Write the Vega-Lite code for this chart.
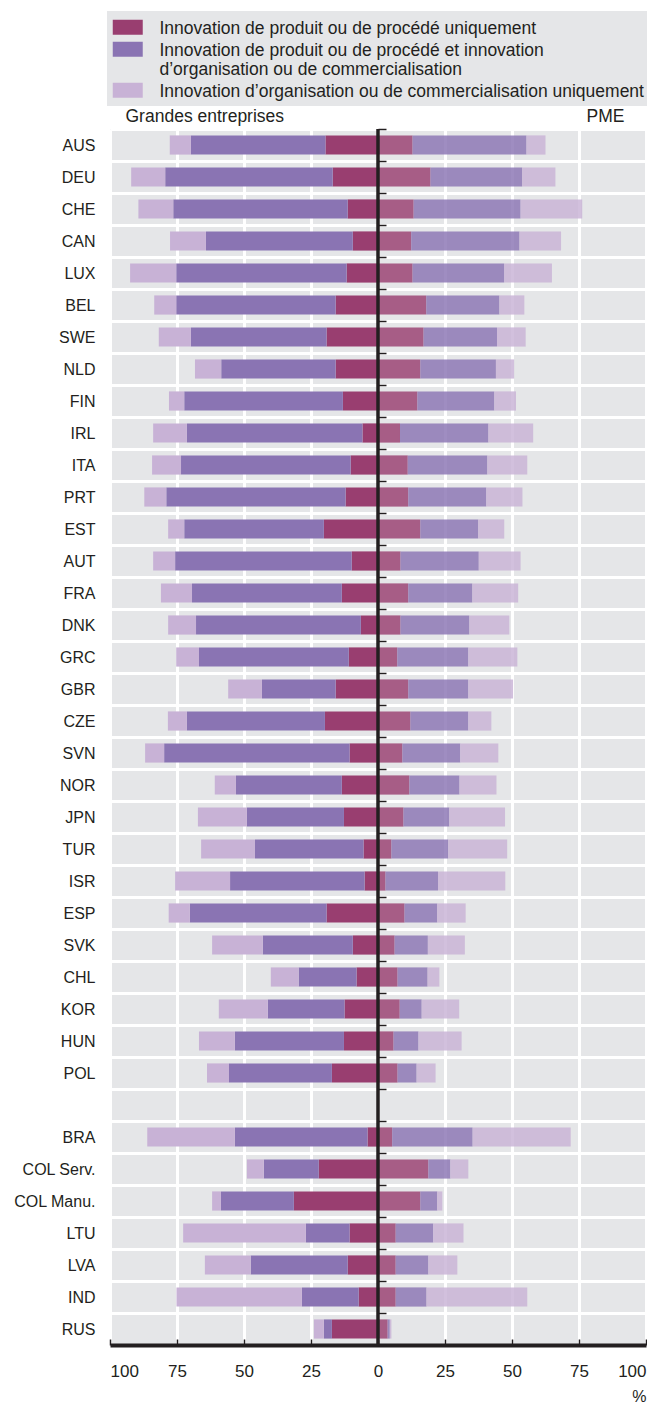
{
  "$schema": "https://vega.github.io/schema/vega-lite/v6.json",
  "width": 536,
  "height": 1216,
  "autosize": {"type": "none"},
  "padding": {"left": 110, "top": 129, "right": 1, "bottom": 58},
  "background": "white",
  "config": {
    "font": "Liberation Sans",
    "view": {"fill": "#e5e6e8", "stroke": null},
    "axis": {"labelColor": "#231f20", "titleColor": "#231f20", "labelFont": "Liberation Sans", "titleFont": "Liberation Sans"},
    "legend": {"labelFont": "Liberation Sans"}
  },
  "data": {"values": [
    {"c":"AUS","s":"L","t":"A","v":-19.6},{"c":"AUS","s":"L","t":"B","v":-50.2},{"c":"AUS","s":"L","t":"C","v":-7.9},{"c":"AUS","s":"R","t":"A","v":12.9},{"c":"AUS","s":"R","t":"B","v":42.5},{"c":"AUS","s":"R","t":"C","v":7.1},
    {"c":"DEU","s":"L","t":"A","v":-16.9},{"c":"DEU","s":"L","t":"B","v":-62.5},{"c":"DEU","s":"L","t":"C","v":-12.7},{"c":"DEU","s":"R","t":"A","v":19.6},{"c":"DEU","s":"R","t":"B","v":34.2},{"c":"DEU","s":"R","t":"C","v":12.4},
    {"c":"CHE","s":"L","t":"A","v":-11.3},{"c":"CHE","s":"L","t":"B","v":-65.1},{"c":"CHE","s":"L","t":"C","v":-13.0},{"c":"CHE","s":"R","t":"A","v":13.3},{"c":"CHE","s":"R","t":"B","v":39.9},{"c":"CHE","s":"R","t":"C","v":23.0},
    {"c":"CAN","s":"L","t":"A","v":-9.4},{"c":"CAN","s":"L","t":"B","v":-54.8},{"c":"CAN","s":"L","t":"C","v":-13.4},{"c":"CAN","s":"R","t":"A","v":12.4},{"c":"CAN","s":"R","t":"B","v":40.4},{"c":"CAN","s":"R","t":"C","v":15.5},
    {"c":"LUX","s":"L","t":"A","v":-11.7},{"c":"LUX","s":"L","t":"B","v":-63.6},{"c":"LUX","s":"L","t":"C","v":-17.2},{"c":"LUX","s":"R","t":"A","v":12.9},{"c":"LUX","s":"R","t":"B","v":34.2},{"c":"LUX","s":"R","t":"C","v":17.8},
    {"c":"BEL","s":"L","t":"A","v":-15.8},{"c":"BEL","s":"L","t":"B","v":-59.5},{"c":"BEL","s":"L","t":"C","v":-8.2},{"c":"BEL","s":"R","t":"A","v":18.0},{"c":"BEL","s":"R","t":"B","v":27.3},{"c":"BEL","s":"R","t":"C","v":9.3},
    {"c":"SWE","s":"L","t":"A","v":-19.2},{"c":"SWE","s":"L","t":"B","v":-50.6},{"c":"SWE","s":"L","t":"C","v":-12.0},{"c":"SWE","s":"R","t":"A","v":17.0},{"c":"SWE","s":"R","t":"B","v":27.4},{"c":"SWE","s":"R","t":"C","v":10.7},
    {"c":"NLD","s":"L","t":"A","v":-15.8},{"c":"NLD","s":"L","t":"B","v":-42.7},{"c":"NLD","s":"L","t":"C","v":-9.8},{"c":"NLD","s":"R","t":"A","v":15.8},{"c":"NLD","s":"R","t":"B","v":28.2},{"c":"NLD","s":"R","t":"C","v":6.8},
    {"c":"FIN","s":"L","t":"A","v":-13.1},{"c":"FIN","s":"L","t":"B","v":-59.2},{"c":"FIN","s":"L","t":"C","v":-5.7},{"c":"FIN","s":"R","t":"A","v":14.7},{"c":"FIN","s":"R","t":"B","v":28.7},{"c":"FIN","s":"R","t":"C","v":8.1},
    {"c":"IRL","s":"L","t":"A","v":-5.8},{"c":"IRL","s":"L","t":"B","v":-65.5},{"c":"IRL","s":"L","t":"C","v":-12.6},{"c":"IRL","s":"R","t":"A","v":8.2},{"c":"IRL","s":"R","t":"B","v":33.0},{"c":"IRL","s":"R","t":"C","v":16.7},
    {"c":"ITA","s":"L","t":"A","v":-10.2},{"c":"ITA","s":"L","t":"B","v":-63.3},{"c":"ITA","s":"L","t":"C","v":-10.8},{"c":"ITA","s":"R","t":"A","v":11.1},{"c":"ITA","s":"R","t":"B","v":29.7},{"c":"ITA","s":"R","t":"C","v":14.9},
    {"c":"PRT","s":"L","t":"A","v":-12.1},{"c":"PRT","s":"L","t":"B","v":-66.9},{"c":"PRT","s":"L","t":"C","v":-8.2},{"c":"PRT","s":"R","t":"A","v":11.3},{"c":"PRT","s":"R","t":"B","v":29.1},{"c":"PRT","s":"R","t":"C","v":13.5},
    {"c":"EST","s":"L","t":"A","v":-20.2},{"c":"EST","s":"L","t":"B","v":-52.1},{"c":"EST","s":"L","t":"C","v":-6.0},{"c":"EST","s":"R","t":"A","v":15.8},{"c":"EST","s":"R","t":"B","v":21.6},{"c":"EST","s":"R","t":"C","v":9.7},
    {"c":"AUT","s":"L","t":"A","v":-9.8},{"c":"AUT","s":"L","t":"B","v":-65.9},{"c":"AUT","s":"L","t":"C","v":-8.2},{"c":"AUT","s":"R","t":"A","v":8.4},{"c":"AUT","s":"R","t":"B","v":29.2},{"c":"AUT","s":"R","t":"C","v":15.6},
    {"c":"FRA","s":"L","t":"A","v":-13.5},{"c":"FRA","s":"L","t":"B","v":-55.9},{"c":"FRA","s":"L","t":"C","v":-11.6},{"c":"FRA","s":"R","t":"A","v":11.3},{"c":"FRA","s":"R","t":"B","v":23.9},{"c":"FRA","s":"R","t":"C","v":17.1},
    {"c":"DNK","s":"L","t":"A","v":-6.4},{"c":"DNK","s":"L","t":"B","v":-61.5},{"c":"DNK","s":"L","t":"C","v":-10.4},{"c":"DNK","s":"R","t":"A","v":8.4},{"c":"DNK","s":"R","t":"B","v":25.7},{"c":"DNK","s":"R","t":"C","v":14.9},
    {"c":"GRC","s":"L","t":"A","v":-10.9},{"c":"GRC","s":"L","t":"B","v":-55.9},{"c":"GRC","s":"L","t":"C","v":-8.5},{"c":"GRC","s":"R","t":"A","v":7.2},{"c":"GRC","s":"R","t":"B","v":26.5},{"c":"GRC","s":"R","t":"C","v":18.3},
    {"c":"GBR","s":"L","t":"A","v":-15.8},{"c":"GBR","s":"L","t":"B","v":-27.5},{"c":"GBR","s":"L","t":"C","v":-12.6},{"c":"GBR","s":"R","t":"A","v":11.3},{"c":"GBR","s":"R","t":"B","v":22.4},{"c":"GBR","s":"R","t":"C","v":16.7},
    {"c":"CZE","s":"L","t":"A","v":-19.8},{"c":"CZE","s":"L","t":"B","v":-51.5},{"c":"CZE","s":"L","t":"C","v":-7.1},{"c":"CZE","s":"R","t":"A","v":12.1},{"c":"CZE","s":"R","t":"B","v":21.6},{"c":"CZE","s":"R","t":"C","v":8.6},
    {"c":"SVN","s":"L","t":"A","v":-10.6},{"c":"SVN","s":"L","t":"B","v":-69.2},{"c":"SVN","s":"L","t":"C","v":-7.1},{"c":"SVN","s":"R","t":"A","v":9.1},{"c":"SVN","s":"R","t":"B","v":21.6},{"c":"SVN","s":"R","t":"C","v":14.2},
    {"c":"NOR","s":"L","t":"A","v":-13.5},{"c":"NOR","s":"L","t":"B","v":-39.5},{"c":"NOR","s":"L","t":"C","v":-7.9},{"c":"NOR","s":"R","t":"A","v":11.7},{"c":"NOR","s":"R","t":"B","v":18.7},{"c":"NOR","s":"R","t":"C","v":13.8},
    {"c":"JPN","s":"L","t":"A","v":-12.7},{"c":"JPN","s":"L","t":"B","v":-36.2},{"c":"JPN","s":"L","t":"C","v":-18.3},{"c":"JPN","s":"R","t":"A","v":9.5},{"c":"JPN","s":"R","t":"B","v":17.1},{"c":"JPN","s":"R","t":"C","v":20.8},
    {"c":"TUR","s":"L","t":"A","v":-5.4},{"c":"TUR","s":"L","t":"B","v":-40.5},{"c":"TUR","s":"L","t":"C","v":-20.1},{"c":"TUR","s":"R","t":"A","v":5.0},{"c":"TUR","s":"R","t":"B","v":21.2},{"c":"TUR","s":"R","t":"C","v":22.0},
    {"c":"ISR","s":"L","t":"A","v":-5.0},{"c":"ISR","s":"L","t":"B","v":-50.2},{"c":"ISR","s":"L","t":"C","v":-20.5},{"c":"ISR","s":"R","t":"A","v":2.8},{"c":"ISR","s":"R","t":"B","v":19.6},{"c":"ISR","s":"R","t":"C","v":25.1},
    {"c":"ESP","s":"L","t":"A","v":-19.2},{"c":"ESP","s":"L","t":"B","v":-51.0},{"c":"ESP","s":"L","t":"C","v":-7.9},{"c":"ESP","s":"R","t":"A","v":9.9},{"c":"ESP","s":"R","t":"B","v":12.2},{"c":"ESP","s":"R","t":"C","v":10.6},
    {"c":"SVK","s":"L","t":"A","v":-9.4},{"c":"SVK","s":"L","t":"B","v":-33.6},{"c":"SVK","s":"L","t":"C","v":-18.9},{"c":"SVK","s":"R","t":"A","v":6.2},{"c":"SVK","s":"R","t":"B","v":12.4},{"c":"SVK","s":"R","t":"C","v":13.8},
    {"c":"CHL","s":"L","t":"A","v":-8.0},{"c":"CHL","s":"L","t":"B","v":-21.6},{"c":"CHL","s":"L","t":"C","v":-10.4},{"c":"CHL","s":"R","t":"A","v":7.3},{"c":"CHL","s":"R","t":"B","v":11.2},{"c":"CHL","s":"R","t":"C","v":4.4},
    {"c":"KOR","s":"L","t":"A","v":-12.5},{"c":"KOR","s":"L","t":"B","v":-28.6},{"c":"KOR","s":"L","t":"C","v":-18.3},{"c":"KOR","s":"R","t":"A","v":8.1},{"c":"KOR","s":"R","t":"B","v":8.2},{"c":"KOR","s":"R","t":"C","v":14.0},
    {"c":"HUN","s":"L","t":"A","v":-12.7},{"c":"HUN","s":"L","t":"B","v":-40.7},{"c":"HUN","s":"L","t":"C","v":-13.4},{"c":"HUN","s":"R","t":"A","v":5.8},{"c":"HUN","s":"R","t":"B","v":9.3},{"c":"HUN","s":"R","t":"C","v":16.1},
    {"c":"POL","s":"L","t":"A","v":-17.2},{"c":"POL","s":"L","t":"B","v":-38.4},{"c":"POL","s":"L","t":"C","v":-8.2},{"c":"POL","s":"R","t":"A","v":7.3},{"c":"POL","s":"R","t":"B","v":7.1},{"c":"POL","s":"R","t":"C","v":7.1},
    {"c":"BRA","s":"L","t":"A","v":-3.9},{"c":"BRA","s":"L","t":"B","v":-49.5},{"c":"BRA","s":"L","t":"C","v":-32.7},{"c":"BRA","s":"R","t":"A","v":5.3},{"c":"BRA","s":"R","t":"B","v":30.0},{"c":"BRA","s":"R","t":"C","v":36.6},
    {"c":"COL Serv.","s":"L","t":"A","v":-22.1},{"c":"COL Serv.","s":"L","t":"B","v":-20.5},{"c":"COL Serv.","s":"L","t":"C","v":-6.3},{"c":"COL Serv.","s":"R","t":"A","v":18.8},{"c":"COL Serv.","s":"R","t":"B","v":8.2},{"c":"COL Serv.","s":"R","t":"C","v":6.7},
    {"c":"COL Manu.","s":"L","t":"A","v":-31.4},{"c":"COL Manu.","s":"L","t":"B","v":-27.2},{"c":"COL Manu.","s":"L","t":"C","v":-3.3},{"c":"COL Manu.","s":"R","t":"A","v":15.8},{"c":"COL Manu.","s":"R","t":"B","v":6.3},{"c":"COL Manu.","s":"R","t":"C","v":1.9},
    {"c":"LTU","s":"L","t":"A","v":-10.6},{"c":"LTU","s":"L","t":"B","v":-16.3},{"c":"LTU","s":"L","t":"C","v":-45.8},{"c":"LTU","s":"R","t":"A","v":6.6},{"c":"LTU","s":"R","t":"B","v":14.0},{"c":"LTU","s":"R","t":"C","v":11.3},
    {"c":"LVA","s":"L","t":"A","v":-11.3},{"c":"LVA","s":"L","t":"B","v":-36.2},{"c":"LVA","s":"L","t":"C","v":-17.1},{"c":"LVA","s":"R","t":"A","v":6.6},{"c":"LVA","s":"R","t":"B","v":12.2},{"c":"LVA","s":"R","t":"C","v":10.8},
    {"c":"IND","s":"L","t":"A","v":-7.2},{"c":"IND","s":"L","t":"B","v":-21.2},{"c":"IND","s":"L","t":"C","v":-46.8},{"c":"IND","s":"R","t":"A","v":6.6},{"c":"IND","s":"R","t":"B","v":11.5},{"c":"IND","s":"R","t":"C","v":37.6},
    {"c":"RUS","s":"L","t":"A","v":-17.2},{"c":"RUS","s":"L","t":"B","v":-3.0},{"c":"RUS","s":"L","t":"C","v":-3.7},{"c":"RUS","s":"R","t":"A","v":3.6},{"c":"RUS","s":"R","t":"B","v":0.8},{"c":"RUS","s":"R","t":"C","v":0.6}
  ]},
  "layer": [
    {
      "transform": [{"filter": "datum.s == 'L'"}],
      "mark": {"type": "bar", "height": {"band": 0.6}},
      "encoding": {
        "y": {
          "field": "c", "type": "nominal", "sort": null,
          "scale": {"domain": ["AUS","DEU","CHE","CAN","LUX","BEL","SWE","NLD","FIN","IRL","ITA","PRT","EST","AUT","FRA","DNK","GRC","GBR","CZE","SVN","NOR","JPN","TUR","ISR","ESP","SVK","CHL","KOR","HUN","POL","","BRA","COL Serv.","COL Manu.","LTU","LVA","IND","RUS"], "paddingInner": 0, "paddingOuter": 0},
          "axis": {"orient": "left", "title": null, "domain": false, "ticks": false, "labelPadding": 15, "labelFontSize": 16, "grid": true, "gridColor": "white", "gridWidth": 3, "gridOpacity": 1, "tickBand": "extent"}
        },
        "x": {
          "field": "v", "type": "quantitative", "stack": "zero",
          "scale": {"domain": [-100, 100], "nice": false, "zero": false},
          "axis": {"orient": "bottom", "values": [-100,-75,-50,-25,0,25,50,75,100], "labelExpr": "abs(datum.value)", "labelFlush": true, "labelFontSize": 17, "labelPadding": 24, "grid": true, "gridColor": "white", "gridWidth": 3, "gridOpacity": 1, "domain": true, "domainColor": "#231f20", "domainWidth": 4, "ticks": true, "tickSize": -6, "tickColor": "#231f20", "tickWidth": 1.5, "title": "%", "titleAnchor": "end", "titleAlign": "right", "titleFontSize": 16, "titleFontWeight": "normal", "titlePadding": 9}
        },
        "color": {
          "field": "t", "type": "nominal",
          "scale": {"domain": ["A","B","C"], "range": ["#993e70","#8a74b3","#c8b2d6"]},
          "legend": {
            "orient": "none", "legendX": -3, "legendY": -118, "direction": "vertical", "title": null,
            "fillColor": "#e5e6e8", "padding": 5, "strokeColor": null,
            "symbolType": "M-15,-5H15V10H-15Z", "symbolSize": 4, "symbolOffset": 7, "symbolStrokeWidth": 0, "symbolOpacity": 1,
            "labelFontSize": 17.5, "labelColor": "#231f20", "labelBaseline": "top", "labelOffset": 23, "labelLimit": 700, "rowPadding": -1,
            "labelExpr": "datum.value == 'A' ? 'Innovation de produit ou de procédé uniquement' : datum.value == 'B' ? ['Innovation de produit ou de procédé et innovation', 'd’organisation ou de commercialisation'] : 'Innovation d’organisation ou de commercialisation uniquement'",
            "encode": {"labels": {"update": {"dy": {"value": -5}}}}
          }
        },
        "order": {"field": "t", "type": "nominal"}
      }
    },
    {
      "transform": [{"filter": "datum.s == 'R'"}],
      "mark": {"type": "bar", "height": {"band": 0.6}, "opacity": 0.82},
      "encoding": {
        "y": {
          "field": "c", "type": "nominal", "sort": null,
          "axis": {"orient": "right", "offset": -268, "title": null, "domain": false, "labels": false, "ticks": true, "tickSize": 8, "tickColor": "#231f20", "tickWidth": 1.5, "tickBand": "extent", "grid": false}
        },
        "x": {
          "field": "v", "type": "quantitative", "stack": "zero",
          "axis": {"orient": "top", "values": [-94.4, 91.8], "labelExpr": "datum.value < 0 ? 'Grandes entreprises' : 'PME'", "labelAlign": {"condition": {"test": "datum.value < 0", "value": "left"}, "value": "right"}, "labelFontSize": 17.5, "labelPadding": 4, "ticks": false, "domain": false, "grid": false, "title": null}
        },
        "color": {
          "field": "t", "type": "nominal",
          "scale": {"domain": ["A","B","C"], "range": ["#993e70","#8a74b3","#c8b2d6"]},
          "legend": null
        },
        "order": {"field": "t", "type": "nominal"}
      }
    },
    {
      "data": {"values": [{}]},
      "mark": {"type": "rule", "color": "#231f20", "strokeWidth": 3.5},
      "encoding": {"x": {"datum": 0, "type": "quantitative", "axis": null}}
    }
  ],
  "resolve": {"axis": {"x": "independent", "y": "independent"}, "scale": {"color": "independent"}, "legend": {"color": "independent"}}
}
